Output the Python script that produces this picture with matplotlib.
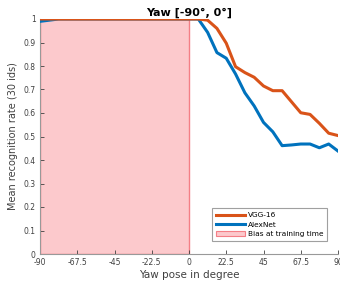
import numpy as np
import matplotlib
matplotlib.use("Agg")
import matplotlib.pyplot as plt
from matplotlib.patches import Patch

# yaw angles: 33 points from -90 to 90
yaw = np.linspace(-90, 90, 33)

vgg16 = [1.0] * 16 + [1.0, 1.0, 0.995, 0.96, 0.897, 0.797, 0.772, 0.752, 0.715,
                      0.695, 0.695, 0.648, 0.601, 0.594, 0.556, 0.514, 0.504]
alexnet = [0.99, 0.995] + [1.0] * 14 + [1.0, 1.0, 0.943, 0.857, 0.833, 0.766, 0.686,
                                        0.630, 0.560, 0.520, 0.461, 0.464, 0.468,
                                        0.468, 0.452, 0.468, 0.438]

bias_range = [-90, 0]
xticks = [-90, -67.5, -45, -22.5, 0, 22.5, 45, 67.5, 90]
xticklabels = ["-90", "-67.5", "-45", "-22.5", "0", "22.5", "45", "67.5", "90"]
yticks = np.arange(0, 1.01, 0.1)

orange = "#D95319"
blue = "#0072BD"
pink = "#FCC9CC"
pink_edge = "#F47F86"
grey = "#404040"

fig = plt.figure(figsize=(3.4, 2.83), dpi=100)
ax = fig.add_axes([40 / 340, 1 - 254 / 283, 298 / 340, 235 / 283])

ax.axvspan(bias_range[0], bias_range[1], facecolor=pink, edgecolor=pink_edge,
           linewidth=1.0, zorder=1)
ax.plot(yaw, alexnet, color=blue, linewidth=2.2, zorder=3)
ax.plot(yaw, vgg16, color=orange, linewidth=2.2, zorder=4)

ax.set_xlim(-90, 90)
ax.set_ylim(0, 1)
ax.set_xticks(xticks)
ax.set_xticklabels(xticklabels)
ax.set_yticks(yticks)
ax.set_yticklabels(["0"] + [f"{v:.1f}" for v in yticks[1:-1]] + ["1"])
ax.tick_params(direction="in", length=3, width=0.6, labelsize=5.5,
               colors=grey, pad=3)

for s in ["top", "right"]:
    ax.spines[s].set_visible(False)
for s in ["left", "bottom"]:
    ax.spines[s].set_color("#999999")
    ax.spines[s].set_linewidth(0.8)

ax.set_xlabel("Yaw pose in degree", fontsize=7.5, color=grey, labelpad=2)
ax.set_ylabel("Mean recognition rate (30 ids)", fontsize=7, color=grey, labelpad=4)
ax.set_title("Yaw [-90°, 0°]", fontsize=8, fontweight="bold", pad=2)

handles = [
    plt.Line2D([], [], color=orange, linewidth=2.2),
    plt.Line2D([], [], color=blue, linewidth=2.2),
    Patch(facecolor=pink, edgecolor=pink_edge, linewidth=0.8),
]
leg = ax.legend(handles, ["VGG-16", "AlexNet", "Bias at training time"],
                loc="lower right", bbox_to_anchor=(0.975, 0.04), fontsize=5.3,
                frameon=True, fancybox=False, handlelength=4.0,
                handletextpad=0.3, borderpad=0.5, labelspacing=0.45)
leg.get_frame().set_edgecolor("#888888")
leg.get_frame().set_linewidth(0.8)

fig.savefig("out.png", dpi=100)
